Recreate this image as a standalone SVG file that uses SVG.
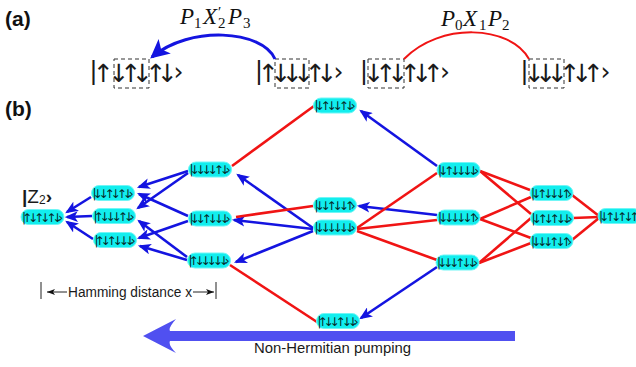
<svg xmlns="http://www.w3.org/2000/svg" width="636" height="367" viewBox="0 0 636 367">
<defs>
<style>
.lbl{font-family:"Liberation Sans",Arial,sans-serif;font-weight:bold;font-size:21px;fill:#111}
.ket{font-family:"DejaVu Sans",sans-serif;font-size:25px;text-anchor:middle;fill:#1a1a1a}
.math{font-family:"Liberation Serif","Times New Roman",serif;font-style:italic;font-size:23px;fill:#111}
.sub{font-style:normal;font-size:15px}
.box{fill:none;stroke:#333;stroke-width:1;stroke-dasharray:4 3}
.node rect{fill:#12eeee;stroke:#70f6f6;stroke-width:1}
.nt{font-family:"DejaVu Sans",sans-serif;font-size:12px;fill:#062a2a}
.b{stroke:#1414e0;stroke-width:2.6;fill:none;marker-end:url(#ab)}
.r{stroke:#f01414;stroke-width:2.6;fill:none}
.cap{font-family:"Liberation Sans",Arial,sans-serif;fill:#1a1a1a}
.k{stroke:#222;stroke-width:1;fill:none}
</style>
<marker id="ab" viewBox="0 0 12 10" refX="10" refY="5" markerWidth="13" markerHeight="11" markerUnits="userSpaceOnUse" orient="auto"><path d="M0,0 L12,5 L0,10 L3,5 Z" fill="#1414e0"/></marker>
<marker id="abig" viewBox="0 0 16 16" refX="14" refY="8" markerWidth="19" markerHeight="19" markerUnits="userSpaceOnUse" orient="auto"><path d="M0,0 L16,8 L0,16 L4,8 Z" fill="#1414e0"/></marker>
<marker id="ak" viewBox="0 0 8 6" refX="8" refY="3" markerWidth="8" markerHeight="6" markerUnits="userSpaceOnUse" orient="auto"><path d="M0,0 L8,3 L0,6 L2,3 Z" fill="#111"/></marker>
</defs>
<rect width="636" height="367" fill="#fff"/>

<!-- panel labels -->
<text class="lbl" x="5" y="26">(a)</text>
<text class="lbl" x="5" y="116">(b)</text>

<!-- panel (a) -->
<g id="ket1">
<text class="ket" x="93.5 103.5 119 131 142.5 156 167.5 178.5" y="79 82 82 82 82 82 82 80">|↑↓↑↓↑↓›</text>
<rect class="box" x="114" y="59" width="35" height="29"/>
</g>
<g id="ket2">
<text class="ket" x="259 268.5 281 292.5 304 315.5 327 338.5" y="79 82 82 82 82 82 82 80">|↑↓↓↓↑↓›</text>
<rect class="box" x="275" y="59" width="34" height="29"/>
</g>
<g id="ket3">
<text class="ket" x="364 374 386 398 410.5 422 433.5 445" y="79 82 82 82 82 82 82 80">|↓↑↓↑↓↑›</text>
<rect class="box" x="368" y="59" width="36" height="29"/>
</g>
<g id="ket4">
<text class="ket" x="524.5 534.5 546 557.5 570 582 593.5 605.5" y="79 82 82 82 82 82 82 80">|↓↓↓↑↓↑›</text>
<rect class="box" x="529" y="59" width="35" height="29"/>
</g>
<g id="a-connectors">
<path d="M275,59 C262,30 190,25 152,57" stroke="#1414e0" stroke-width="3" fill="none" marker-end="url(#abig)"/>
<path d="M404,59 C440,22 510,25 529,59" stroke="#f01414" stroke-width="2" fill="none"/>
</g>
<text class="math" y="24"><tspan x="180">P</tspan><tspan class="sub" x="194" dy="4">1</tspan><tspan x="203" dy="-4">X</tspan><tspan class="sub" x="218" dy="-7">′</tspan><tspan class="sub" x="218" dy="11">2</tspan><tspan x="228" dy="-4">P</tspan><tspan class="sub" x="243" dy="4">3</tspan></text>
<text class="math" y="26"><tspan x="441">P</tspan><tspan class="sub" x="455" dy="4">0</tspan><tspan x="463" dy="-4">X</tspan><tspan class="sub" x="479" dy="4">1</tspan><tspan x="488" dy="-4">P</tspan><tspan class="sub" x="502" dy="4">2</tspan></text>

<!-- panel (b) connectors -->
<g id="connectors">
<line class="b" x1="91" y1="197" x2="67" y2="212"/>
<line class="b" x1="92" y1="216" x2="67" y2="217"/>
<line class="b" x1="93" y1="239" x2="67" y2="222"/>
<line class="b" x1="188" y1="171" x2="139" y2="187"/>
<line class="b" x1="188" y1="173" x2="138" y2="208"/>
<line class="b" x1="188" y1="216" x2="139" y2="194"/>
<line class="b" x1="188" y1="221" x2="139" y2="238"/>
<line class="b" x1="187" y1="257" x2="139" y2="221"/>
<line class="b" x1="187" y1="260" x2="140" y2="246"/>
<line class="b" x1="313" y1="228" x2="238" y2="175"/>
<line class="b" x1="313" y1="229" x2="234" y2="220"/>
<line class="b" x1="313" y1="231" x2="236" y2="262"/>
<line class="b" x1="437" y1="166" x2="361" y2="111"/>
<line class="b" x1="437" y1="215" x2="359" y2="206"/>
<line class="b" x1="437" y1="267" x2="361" y2="318"/>
<line class="r" x1="232" y1="166" x2="314" y2="106"/>
<line class="r" x1="313" y1="206" x2="236" y2="217"/>
<line class="r" x1="230" y1="265" x2="317" y2="322"/>
<line class="r" x1="357" y1="228" x2="437" y2="173"/>
<line class="r" x1="357" y1="229" x2="437" y2="220"/>
<line class="r" x1="357" y1="231" x2="437" y2="260"/>
<line class="r" x1="480" y1="171" x2="530" y2="190"/>
<line class="r" x1="480" y1="171" x2="531" y2="214"/>
<line class="r" x1="480" y1="219" x2="531" y2="197"/>
<line class="r" x1="480" y1="219" x2="531" y2="238"/>
<line class="r" x1="479" y1="263" x2="531" y2="218"/>
<line class="r" x1="479" y1="263" x2="531" y2="243"/>
<line class="r" x1="572" y1="195" x2="599" y2="216"/>
<line class="r" x1="573" y1="218" x2="599" y2="217"/>
<line class="r" x1="572" y1="240" x2="599" y2="218"/>
</g>

<!-- nodes -->
<g id="n-z2" class="node" transform="translate(21,209.5)"><rect width="43" height="15" rx="7.5"/><text class="nt" x="1" y="12" textLength="41" lengthAdjust="spacing">|↑↓↑↓↑↓›</text></g>
<g id="n-a1" class="node" transform="translate(91.5,185.5)"><rect width="43" height="15" rx="7.5"/><text class="nt" x="1" y="12" textLength="41" lengthAdjust="spacing">|↓↓↑↓↑↓›</text></g>
<g id="n-a2" class="node" transform="translate(92.5,208.5)"><rect width="43" height="15" rx="7.5"/><text class="nt" x="1" y="12" textLength="41" lengthAdjust="spacing">|↑↓↓↓↑↓›</text></g>
<g id="n-a3" class="node" transform="translate(93.5,232.5)"><rect width="43" height="15" rx="7.5"/><text class="nt" x="1" y="12" textLength="41" lengthAdjust="spacing">|↑↓↑↓↓↓›</text></g>
<g id="n-b1" class="node" transform="translate(188.5,162)"><rect width="43" height="15" rx="7.5"/><text class="nt" x="1" y="12" textLength="41" lengthAdjust="spacing">|↓↓↓↓↑↓›</text></g>
<g id="n-b2" class="node" transform="translate(188.5,211)"><rect width="43" height="15" rx="7.5"/><text class="nt" x="1" y="12" textLength="41" lengthAdjust="spacing">|↓↓↑↓↓↓›</text></g>
<g id="n-b3" class="node" transform="translate(187.5,253)"><rect width="43" height="15" rx="7.5"/><text class="nt" x="1" y="12" textLength="41" lengthAdjust="spacing">|↑↓↓↓↓↓›</text></g>
<g id="n-c1" class="node" transform="translate(313.5,98)"><rect width="43" height="15" rx="7.5"/><text class="nt" x="1" y="12" textLength="41" lengthAdjust="spacing">|↓↑↓↓↑↓›</text></g>
<g id="n-c2" class="node" transform="translate(313.5,197.5)"><rect width="43" height="15" rx="7.5"/><text class="nt" x="1" y="12" textLength="41" lengthAdjust="spacing">|↓↓↑↓↓↑›</text></g>
<g id="n-c3" class="node" transform="translate(313.5,220)"><rect width="43" height="15" rx="7.5"/><text class="nt" x="1" y="12" textLength="41" lengthAdjust="spacing">|↓↓↓↓↓↓›</text></g>
<g id="n-c4" class="node" transform="translate(316.5,313.5)"><rect width="43" height="15" rx="7.5"/><text class="nt" x="1" y="12" textLength="41" lengthAdjust="spacing">|↑↓↓↑↓↓›</text></g>
<g id="n-d1" class="node" transform="translate(437,162.5)"><rect width="43" height="15" rx="7.5"/><text class="nt" x="1" y="12" textLength="41" lengthAdjust="spacing">|↓↑↓↓↓↓›</text></g>
<g id="n-d2" class="node" transform="translate(437,210)"><rect width="43" height="15" rx="7.5"/><text class="nt" x="1" y="12" textLength="41" lengthAdjust="spacing">|↓↓↓↓↓↑›</text></g>
<g id="n-d3" class="node" transform="translate(436,255)"><rect width="43" height="15" rx="7.5"/><text class="nt" x="1" y="12" textLength="41" lengthAdjust="spacing">|↓↓↓↑↓↓›</text></g>
<g id="n-e1" class="node" transform="translate(530,185.5)"><rect width="43" height="15" rx="7.5"/><text class="nt" x="1" y="12" textLength="41" lengthAdjust="spacing">|↓↑↓↓↓↑›</text></g>
<g id="n-e2" class="node" transform="translate(530.5,210.5)"><rect width="43" height="15" rx="7.5"/><text class="nt" x="1" y="12" textLength="41" lengthAdjust="spacing">|↓↑↓↑↓↓›</text></g>
<g id="n-e3" class="node" transform="translate(530,233.5)"><rect width="43" height="15" rx="7.5"/><text class="nt" x="1" y="12" textLength="41" lengthAdjust="spacing">|↓↓↓↑↓↑›</text></g>
<g id="n-f1" class="node" transform="translate(598,208.5)"><rect width="43" height="15" rx="7.5"/><text class="nt" x="1" y="12" textLength="41" lengthAdjust="spacing">|↓↑↓↑↓↑›</text></g>

<!-- Z2 label -->
<text class="cap" x="22" y="203" font-size="19"><tspan font-weight="bold">|</tspan>Z<tspan font-size="12" dy="1">2</tspan><tspan font-weight="bold" dy="-1">›</tspan></text>

<!-- Hamming distance -->
<g id="hamming">
<line class="k" x1="41" y1="282" x2="41" y2="299"/>
<line class="k" x1="67" y1="292" x2="47" y2="292" marker-end="url(#ak)"/>
<text class="cap" x="68" y="297" font-size="14" textLength="124" lengthAdjust="spacingAndGlyphs">Hamming distance x</text>
<line class="k" x1="193" y1="292" x2="214" y2="292" marker-end="url(#ak)"/>
<line class="k" x1="216" y1="282" x2="216" y2="299"/>
</g>

<!-- pumping arrow -->
<g id="pumping">
<path d="M143,336 L176,319 Q168,328 170,331 L515,331 L515,341 L170,341 Q168,345 176,353 Z" fill="#5050f0"/>
<text class="cap" x="254" y="353" font-size="15" textLength="157" lengthAdjust="spacingAndGlyphs">Non-Hermitian pumping</text>
</g>
</svg>
